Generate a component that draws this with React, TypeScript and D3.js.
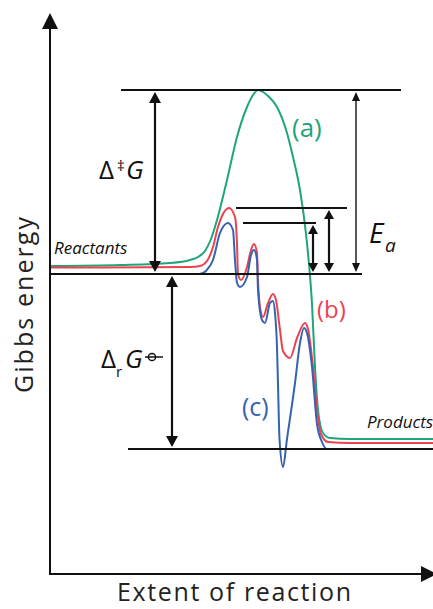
import React from "react";
import * as d3 from "d3";

// Reaction coordinate (extent) in arbitrary units, Gibbs energy relative to reactants.
const LEVEL_REACTANTS = 0;
const LEVEL_TS_UNCAT = 184;
const LEVEL_TS_B = 66;
const LEVEL_TS_C = 51;
const LEVEL_PRODUCTS = -175;

// (a) uncatalysed single barrier
const curveA: [number, number][] = [
  [0, 8], [70, 9], [120, 11], [140, 14], [148, 17], [155, 23], [161, 35], [167, 54],
  [177, 94], [187, 137], [197, 167], [203, 179], [208, 184], [213, 182], [218, 178],
  [227, 167], [237, 141], [243, 117], [250, 84], [256, 40], [259, 10], [262, -30],
  [265, -93], [268, -136], [273, -159], [280, -164], [300, -165], [383, -165],
];

// (b) catalysed pathway with several intermediates
const curveB: [number, number][] = [
  [0, 6.5], [140, 7], [150, 8], [157, 13], [163, 27], [168, 47], [172, 58], [179, 66],
  [185, 57], [187, 30], [188, 0], [191, -6], [197, 7], [201, 24], [204, 30], [207, 21],
  [208, -6], [210, -33], [213, -43], [218, -29], [223, -20], [226, -26], [230, -56],
  [233, -77], [240, -84], [247, -64], [255, -49], [258, -55], [263, -93], [267, -136],
  [271, -160], [278, -168], [300, -169], [383, -169],
];

// (c) alternative catalysed pathway with a deep intermediate
const curveC: [number, number][] = [
  [150, 0], [156, 3], [163, 14], [170, 41], [178, 51], [183, 44], [185, 14], [187, -9],
  [190, -13], [197, -3], [201, 19], [204, 24], [207, 14], [208, -16], [212, -46],
  [215, -49], [220, -29], [223, -27], [225, -39], [227, -73], [228, -110], [229.5, -165],
  [233, -193], [237, -165], [245, -109], [250, -69], [254, -54], [257, -59], [262, -93],
  [267, -150], [272, -168], [277, -175], [290, -175],
];

// Horizontal reference levels: [energy, startExtent, endExtent]
const levels: [number, number, number][] = [
  [LEVEL_TS_UNCAT, 71, 351],
  [LEVEL_REACTANTS, 0, 312],
  [LEVEL_PRODUCTS, 78, 390],
  [LEVEL_TS_B, 186, 297],
  [LEVEL_TS_C, 193, 266],
];

// Double-headed arrows: [extent, from, to, strokeWidth, headLength, headHalfWidth]
const arrows: [number, number, number, number, number, number][] = [
  [105, LEVEL_REACTANTS, LEVEL_TS_UNCAT, 2.2, 11, 6],
  [306, LEVEL_REACTANTS, LEVEL_TS_UNCAT, 1.4, 9, 4],
  [279, LEVEL_REACTANTS, LEVEL_TS_B, 2.2, 9, 5],
  [263, LEVEL_REACTANTS, LEVEL_TS_C, 2.2, 9, 5],
  [122, LEVEL_REACTANTS, LEVEL_PRODUCTS, 2.2, 11, 6],
];

const COLORS = { a: "#1fa47b", b: "#e8434f", c: "#3562b1" };
const FONT = "'Open Sans', 'Noto Sans', sans-serif";

const W = 433;
const H = 609;

export default function App() {
  const x = d3.scaleLinear().domain([0, 383]).range([50, 433]);
  const y = d3.scaleLinear().domain([-175, 184]).range([449, 90]);

  const line = d3
    .line<[number, number]>()
    .x((d) => x(d[0]))
    .y((d) => y(d[1]))
    .curve(d3.curveMonotoneX);

  const axisY0 = y(-300);
  const axisX0 = x(0);
  const axisXEnd = x(387);
  const axisYTop = y(261);

  const gap = 2;
  const arrowEls = arrows.map(([e, g0, g1, sw, hl, hw], i) => {
    const px = x(e);
    const a = y(g0);
    const b = y(g1);
    const dir = b < a ? -1 : 1; // pixel direction from end a towards end b
    const tipA = a + dir * gap;
    const baseA = tipA + dir * hl;
    const tipB = b - dir * gap;
    const baseB = tipB - dir * hl;
    return (
      <g key={i}>
        <line x1={px} x2={px} y1={baseA - dir} y2={baseB + dir} stroke="#111" strokeWidth={sw} />
        <path d={`M${px},${tipA} L${px - hw},${baseA} L${px + hw},${baseA} Z`} fill="#111" />
        <path d={`M${px},${tipB} L${px - hw},${baseB} L${px + hw},${baseB} Z`} fill="#111" />
      </g>
    );
  });

  return (
    <svg
      width={W}
      height={H}
      style={{ position: "absolute", left: 0, top: 0, background: "#fff" }}
      fontFamily={FONT}
    >
      {/* energy profiles */}
      <path d={line(curveA) ?? ""} fill="none" stroke={COLORS.a} strokeWidth={2} />
      <path d={line(curveB) ?? ""} fill="none" stroke={COLORS.b} strokeWidth={2} />
      <path d={line(curveC) ?? ""} fill="none" stroke={COLORS.c} strokeWidth={2} />

      {/* reference energy levels */}
      {levels.map(([g, e0, e1], i) => (
        <line key={i} x1={x(e0)} x2={x(e1)} y1={y(g)} y2={y(g)} stroke="#111" strokeWidth={2} />
      ))}

      {arrowEls}

      {/* axes */}
      <line x1={axisX0} x2={axisX0} y1={axisY0} y2={axisYTop + 14} stroke="#111" strokeWidth={2} />
      <path
        d={`M${axisX0},${axisYTop} L${axisX0 - 8},${axisYTop + 16} L${axisX0 + 8},${axisYTop + 16} Z`}
        fill="#111"
      />
      <line x1={axisX0 - 1} x2={axisXEnd - 14} y1={axisY0} y2={axisY0} stroke="#111" strokeWidth={2} />
      <path
        d={`M${axisXEnd},${axisY0} L${axisXEnd - 16},${axisY0 - 8} L${axisXEnd - 16},${axisY0 + 8} Z`}
        fill="#111"
      />

      {/* axis titles */}
      <text x={117} y={601} fontSize={25} fill="#222" textLength={234} lengthAdjust="spacing">
        Extent of reaction
      </text>
      <text
        transform="translate(33,393) rotate(-90)"
        fontSize={25}
        fill="#222"
        textLength={176}
        lengthAdjust="spacing"
      >
        Gibbs energy
      </text>

      {/* state labels */}
      <text x={54} y={254} fontSize={17} fontStyle="italic" fill="#111">
        Reactants
      </text>
      <text x={367} y={428} fontSize={17} fontStyle="italic" fill="#111">
        Products
      </text>

      {/* curve labels */}
      <text x={292} y={137} fontSize={26} fill={COLORS.a}>
        (a)
      </text>
      <text x={317} y={318} fontSize={24} fill={COLORS.b}>
        (b)
      </text>
      <text x={242} y={416} fontSize={25} fill={COLORS.c}>
        (c)
      </text>

      {/* activation Gibbs energy */}
      <text y={179} fontSize={26} fill="#111">
        <tspan x={99}>Δ</tspan>
        <tspan x={117} y={171} fontSize={15}>‡</tspan>
        <tspan x={126} y={179} fontStyle="italic">G</tspan>
      </text>

      {/* reaction Gibbs energy */}
      <text y={368} fontSize={26} fill="#111">
        <tspan x={101}>Δ</tspan>
        <tspan x={116} y={377} fontSize={15}>r</tspan>
        <tspan x={125} y={368} fontStyle="italic">G</tspan>
      </text>
      <circle cx={152} cy={357} r={3.6} fill="none" stroke="#111" strokeWidth={1.5} />
      <line x1={145} x2={163} y1={357} y2={357} stroke="#111" strokeWidth={1.5} />

      {/* activation energy */}
      <text y={243} fontSize={28} fontStyle="italic" fill="#111">
        <tspan x={369}>E</tspan>
        <tspan x={385} y={252} fontSize={19}>a</tspan>
      </text>
    </svg>
  );
}
